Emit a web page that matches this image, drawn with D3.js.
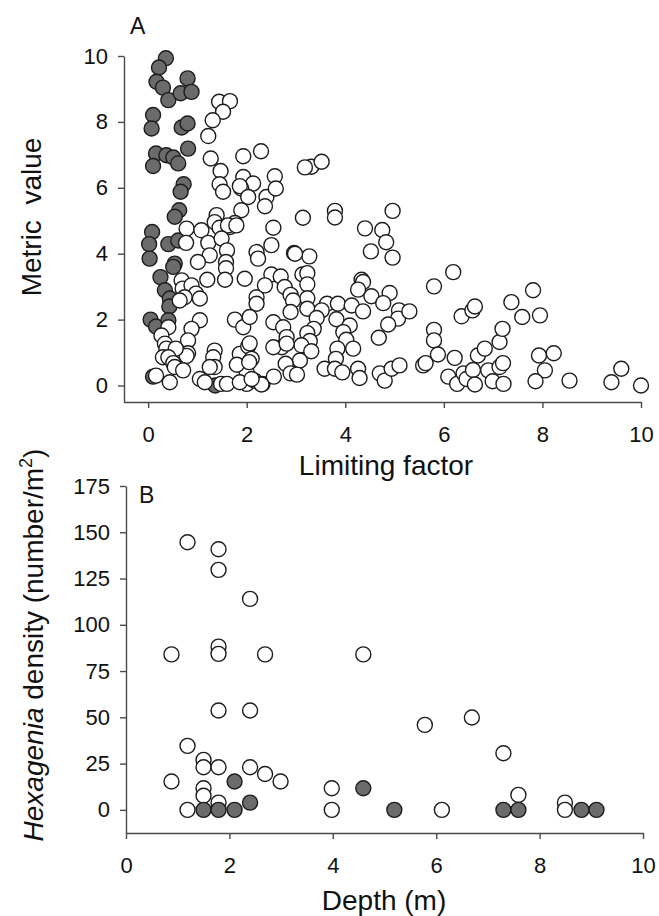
<!DOCTYPE html>
<html>
<head>
<meta charset="utf-8">
<script src="https://cdn.jsdelivr.net/npm/d3@7"></script>
<style>
  body { margin: 0; background: #fff; }
  svg { display: block; }
  text { font-family: "Liberation Sans", Arial, sans-serif; fill: #111; }
</style>
</head>
<body>
<svg id="chart"></svg>
<script>
// Panel A: limiting factor vs metric value
const aFilled = [
  [0.36,9.93],[0.22,9.65],[0.17,9.22],[0.30,9.04],[0.41,8.66],[0.66,8.87],[0.80,9.32],[0.88,8.91],
  [0.10,8.21],[0.07,7.80],[0.68,7.83],[0.80,7.95],[0.81,7.19],
  [0.16,7.04],[0.10,6.66],[0.37,6.99],[0.51,6.92],[0.61,6.74],
  [0.72,6.11],[0.66,5.88],[0.63,5.32],[0.54,5.12],
  [0.08,4.66],[0.02,4.29],[0.03,3.85],[0.41,4.29],[0.61,4.40],[0.54,3.70],[0.51,3.60],
  [0.25,3.29],[0.34,2.89],[0.44,2.64],[0.43,2.40],[0.05,2.00],[0.16,1.79],[0.41,1.98],
  [0.10,0.27],[1.36,0.00]
];

const aOpen = [
  [1.44,8.61],[1.66,8.63],[1.52,8.31],[1.31,8.05],[1.22,7.57],
  [1.27,6.89],[1.47,6.51],[1.45,6.11],[1.52,5.88],
  [1.93,6.96],[2.29,7.11],[1.93,6.33],[2.13,6.13],[1.89,5.98],[1.86,6.05],
  [2.03,5.72],[1.89,5.32],[2.40,5.72],[2.37,5.44],[2.57,6.35],[2.59,5.98],
  [1.39,5.17],[1.35,4.96],[1.76,4.93],[1.66,4.81],[0.78,4.76],[1.08,4.71],
  [3.14,5.09],[3.31,6.64],[3.52,6.79],[3.18,6.62],
  [2.54,4.79],[3.79,5.30],[3.79,5.10],[4.96,5.30],[4.40,4.77],[4.75,4.72],[4.83,4.35],
  [4.52,4.07],[4.96,3.88],
  [0.77,4.33],[1.22,4.33],[1.45,4.79],[1.62,4.86],[1.79,4.86],[1.49,4.46],[1.60,4.10],
  [1.25,3.95],[1.01,3.75],[1.58,3.75],[1.58,3.56],[1.56,3.21],[1.20,3.21],[1.96,3.24],
  [2.20,4.05],[2.23,3.85],
  [0.68,3.19],[0.70,2.94],[0.88,3.04],[0.97,2.79],[1.05,2.64],[0.74,2.68],[0.64,2.58],
  [2.20,2.68],[2.20,2.48],[1.05,1.98],[0.88,1.72],[0.41,1.77],[0.81,1.37],[0.81,0.98],[0.78,0.90],
  [1.76,2.00],[1.93,1.77],[0.27,1.52],[0.34,1.27],[0.37,1.12],[0.56,1.12],[0.30,0.86],[0.41,0.86],
  [0.51,0.68],[0.54,0.56],[0.71,0.46],[0.16,0.30],[0.44,0.10],
  [1.35,1.06],[1.32,0.86],[1.35,0.56],[1.25,0.56],[1.05,0.20],[1.15,0.10],[1.48,0.05],[1.60,0.05],
  [1.86,0.96],[2.03,1.19],[2.10,0.81],[2.00,0.40],[2.00,0.05],[2.16,0.15],[2.32,0.05],
  [1.86,0.10],[1.80,0.63],[2.05,0.71],
  [2.50,4.26],[2.96,4.02],[3.27,3.92],[2.50,3.37],[2.69,3.31],[3.13,3.37],[3.23,3.41],[3.23,3.07],
  [2.37,3.04],[2.77,2.99],[2.89,2.75],[3.23,2.65],[2.98,4.00],[2.94,2.58],
  [4.33,3.21],[4.36,3.14],[4.26,2.91],[4.53,2.71],[4.90,2.81],[4.77,2.50],[5.09,2.28],[5.07,2.03],
  [5.30,2.25],[4.87,1.85],[4.68,1.45],
  [2.89,2.23],[3.63,2.48],[3.85,2.48],[4.13,2.43],[4.36,2.25],[3.23,2.33],[3.52,2.28],[3.42,2.05],[3.82,2.01],
  [3.36,1.72],[4.09,1.82],[2.54,1.92],[2.74,1.77],[2.81,1.47],[2.71,1.16],[2.54,1.16],[3.23,1.59],
  [3.28,1.35],[3.11,1.22],[3.31,1.04],[2.81,1.27],
  [3.96,1.62],[4.02,1.39],[4.16,1.12],[3.84,1.12],[3.81,0.81],[3.08,0.76],[2.79,0.66],[2.89,0.37],
  [3.02,0.33],[2.55,0.27],[2.30,0.03],[2.10,0.20],[2.06,2.08],[2.06,1.28],
  [3.58,0.51],[3.79,0.51],[3.94,0.40],[4.26,0.51],[4.29,0.23],[4.70,0.37],[4.80,0.15],[4.94,0.51],
  [5.10,0.61],[5.58,0.61],[5.63,0.68],[5.80,3.01],[6.19,3.44],[6.36,2.10],[6.58,2.28],[6.63,2.40],
  [5.80,1.69],[5.80,1.37],[5.88,0.94],[6.22,0.84],[6.09,0.27],[6.27,0.05],[6.40,0.37],[6.46,0.20],
  [6.59,0.47],[6.63,0.03],[6.69,0.91],[6.83,1.12],[6.90,0.46],[6.99,0.13],[7.13,1.32],[7.19,1.72],
  [7.13,0.56],[7.20,0.68],[7.21,0.05],[7.37,2.53],[7.59,2.08],[7.81,2.89],[7.95,2.13],[7.93,0.91],
  [8.23,0.98],[8.05,0.46],[7.86,0.13],[8.55,0.15],[9.40,0.10],[9.60,0.51],[10.0,0.00]
];

// Panel B: depth vs Hexagenia density
const bOpen = [
  [1.19,144.6],[1.79,140.8],[1.79,129.7],[2.40,114],[0.88,84],[1.79,88.2],[1.79,84.3],[2.69,84],[4.59,84],
  [1.79,53.7],[2.40,53.7],[1.19,34.6],[1.50,27],[1.50,23],[1.79,23],[2.40,23],[2.69,19.4],[2.99,15.3],
  [0.88,15.3],[1.50,11.7],[1.50,7.6],[1.79,3.9],[1.19,0],
  [3.98,11.7],[3.98,0],[6.11,0],[5.78,45.9],[6.69,49.9],[7.30,30.6],[7.59,8.1],[8.49,3.9],[8.49,0]
];
const bFilled = [
  [2.10,15.3],[2.40,3.9],[1.50,0],[1.79,0],[2.10,0],[4.59,11.7],[5.19,0],[7.30,0],[7.59,0],[8.81,0],[9.10,0]
];

const aXTicks = [0, 2, 4, 6, 8, 10];
const aYTicks = [0, 2, 4, 6, 8, 10];
const bXTicks = [0, 2, 4, 6, 8, 10];
const bYTicks = [0, 25, 50, 75, 100, 125, 150, 175];

const width = 659, height = 916;
const r = 7.5;
const greyFill = "#6b6b6b";
const ink = "#1c1c1c";
const axisCol = "#4a4a4a";

const svg = d3.select("#chart").attr("width", width).attr("height", height);

function drawAxes(x, y, xTicks, yTicks, bottom, left) {
  const gx = svg.append("g")
    .attr("transform", `translate(0,${bottom})`)
    .call(d3.axisBottom(x).tickValues(xTicks).tickSize(6).tickSizeOuter(0).tickPadding(18).tickFormat(d3.format("d")));
  const gy = svg.append("g")
    .attr("transform", `translate(${left},0)`)
    .call(d3.axisLeft(y).tickValues(yTicks).tickSize(6).tickSizeOuter(0).tickPadding(10).tickFormat(d3.format("d")));
  [gx, gy].forEach(g => {
    g.select(".domain").attr("stroke", axisCol).attr("stroke-width", 1.4);
    g.selectAll(".tick line").attr("stroke", axisCol).attr("stroke-width", 1.4);
    g.selectAll(".tick text").attr("font-size", 22).attr("fill", "#111")
      .attr("font-family", '"Liberation Sans", Arial, sans-serif');
  });
}

function drawDots(data, x, y, fill) {
  svg.append("g").selectAll("circle")
    .data(data)
    .enter()
    .append("circle")
    .attr("cx", d => x(d[0]))
    .attr("cy", d => y(d[1]))
    .attr("r", r)
    .attr("fill", fill)
    .attr("stroke", ink)
    .attr("stroke-width", 1.4);
}

// ---- Panel A ----
const xA = d3.scaleLinear().domain([-0.5, 10]).range([123.5, 641]);
const yA = d3.scaleLinear().domain([-0.5, 10]).range([402, 56]);
drawAxes(xA, yA, aXTicks, aYTicks, 402, 124);
drawDots(aFilled, xA, yA, greyFill);
drawDots(aOpen, xA, yA, "#fff");

svg.append("text").attr("x", 130).attr("y", 34).attr("font-size", 23).text("A");
svg.append("text")
  .attr("x", 386).attr("y", 475)
  .attr("text-anchor", "middle").attr("font-size", 28)
  .text("Limiting factor");
svg.append("text")
  .attr("transform", "translate(41,217) rotate(-90)")
  .attr("text-anchor", "middle").attr("font-size", 28)
  .attr("xml:space", "preserve")
  .text("Metric  value");

// ---- Panel B ----
const xB = d3.scaleLinear().domain([0, 10]).range([126, 643]);
const yB = d3.scaleLinear().domain([-12.5, 175]).range([833, 486]);
drawAxes(xB, yB, bXTicks, bYTicks, 833, 126);
drawDots(bOpen, xB, yB, "#fff");
drawDots(bFilled, xB, yB, greyFill);

svg.append("text").attr("x", 139).attr("y", 503).attr("font-size", 23).text("B");
svg.append("text")
  .attr("x", 384).attr("y", 910)
  .attr("text-anchor", "middle").attr("font-size", 28)
  .text("Depth (m)");

const yLabB = svg.append("text")
  .attr("transform", "translate(43,645) rotate(-90)")
  .attr("text-anchor", "middle").attr("font-size", 28);
yLabB.append("tspan").attr("font-style", "italic").text("Hexagenia");
yLabB.append("tspan").text(" density (number/m");
yLabB.append("tspan").attr("font-size", 18).attr("dy", -11).text("2");
yLabB.append("tspan").attr("dy", 11).text(")");
</script>
</body>
</html>
